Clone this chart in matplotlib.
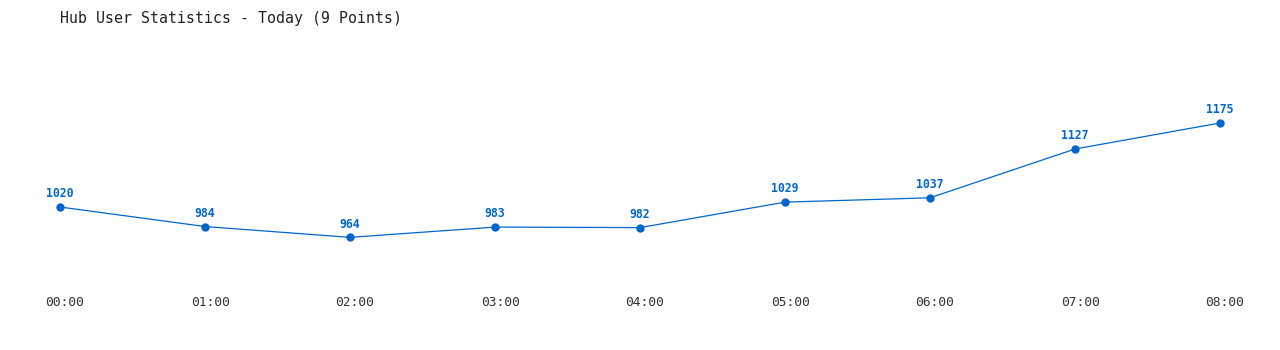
import matplotlib
matplotlib.use('Agg')
import matplotlib.pyplot as plt

hours = ['00:00', '01:00', '02:00', '03:00', '04:00', '05:00', '06:00', '07:00', '08:00']
users = [1020, 984, 964, 983, 982, 1029, 1037, 1127, 1175]
title = 'Hub User Statistics - Today (9 Points)'

W, H = 1280, 350
fig = plt.figure(figsize=(W / 100, H / 100), dpi=100)
# axes spans pixel x 60..1220, y 40..290
ax = fig.add_axes([60 / W, 1 - 290 / H, 1160 / W, 250 / H])
ax.set_xlim(0, len(hours) - 1)
ax.set_ylim(866.9, 1328.1)
ax.axis('off')

xs = list(range(len(hours)))
ax.plot(xs, users, color='#0066cc', lw=0.9, marker='o', ms=5, clip_on=False)
for x, v in zip(xs, users):
    ax.annotate(str(v), (x, v), xytext=(0, 9.5), textcoords='offset points',
                ha='center', va='center', fontsize=8.3, fontweight='bold',
                color='#0066cc', family='DejaVu Sans Mono')

# x labels under each point
for x, lab in zip(xs, hours):
    fig.text((60 + x * 145 + 5) / W, 1 - 303 / H, lab, ha='center', va='center',
             fontsize=9.3, color='#333333', family='DejaVu Sans Mono')

fig.text(60 / W, 1 - 18 / H, title, ha='left', va='center', fontsize=10.7,
         color='#222222', family='DejaVu Sans Mono')

fig.savefig('out.png', dpi=100, facecolor='white')
